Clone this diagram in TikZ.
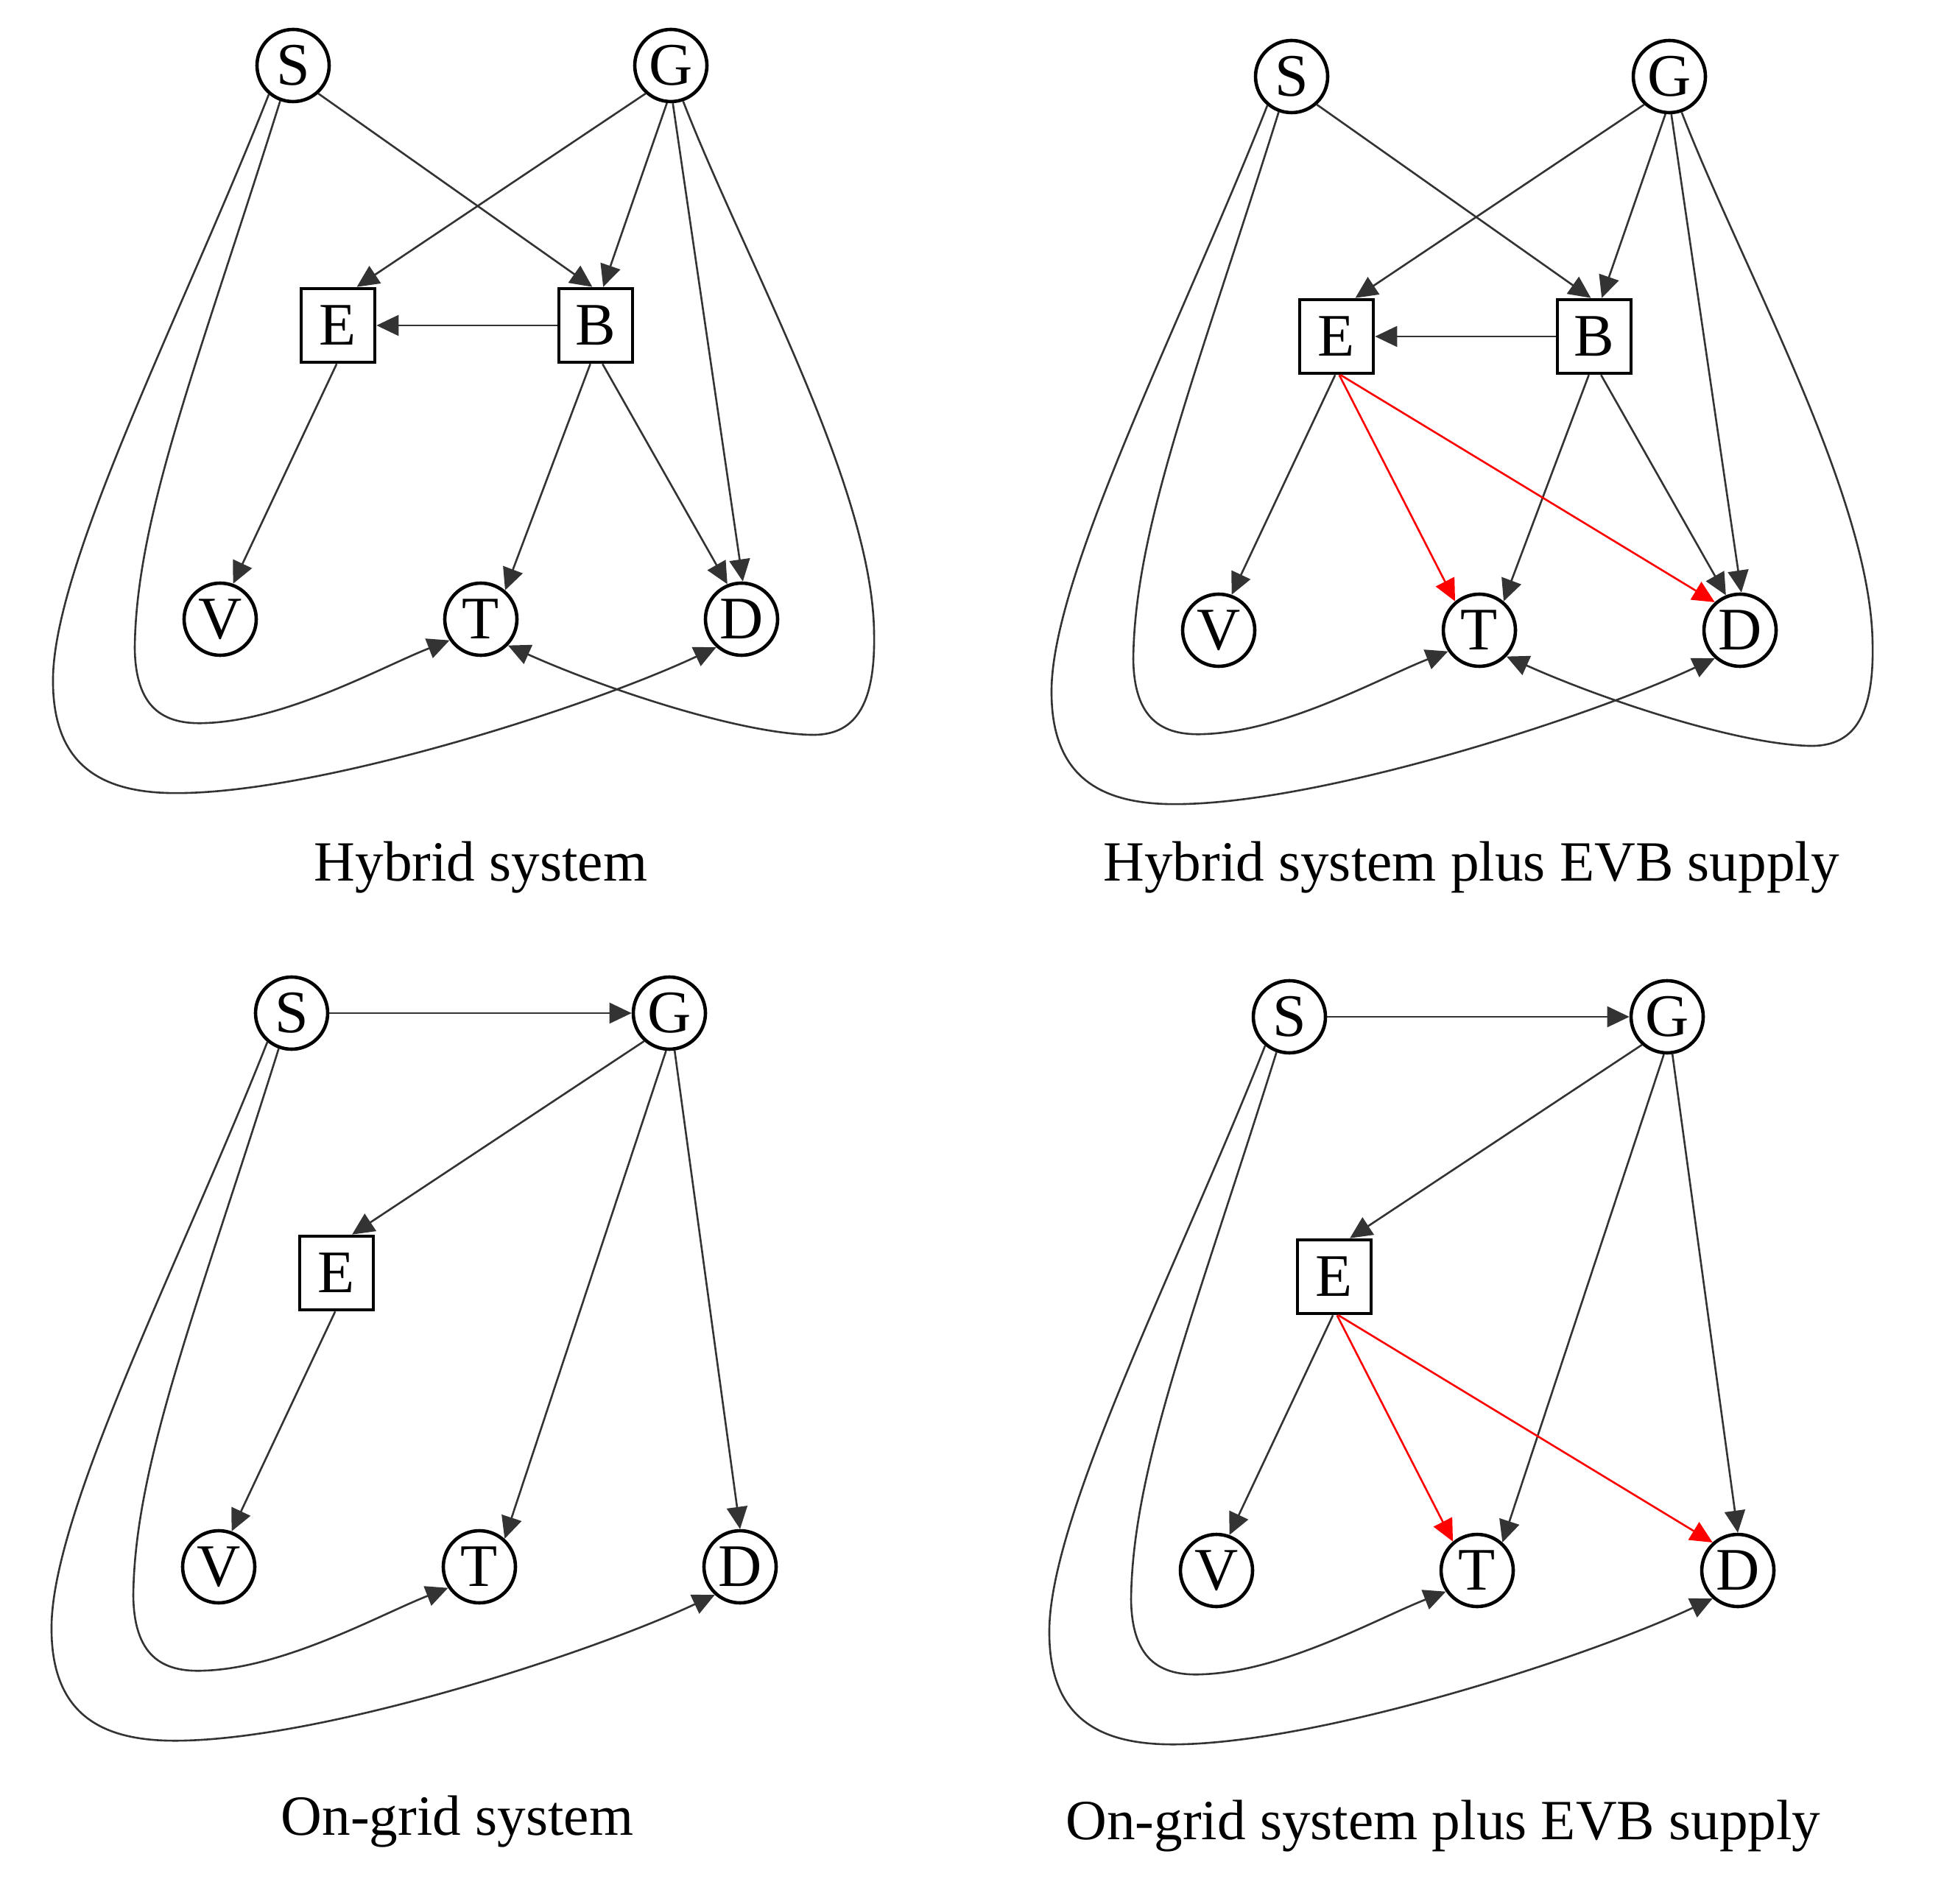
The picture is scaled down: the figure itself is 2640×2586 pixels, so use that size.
\documentclass[tikz,border=0pt]{standalone}
\usepackage{fontspec}
\setmainfont{Liberation Serif}
\usetikzlibrary{arrows.meta}
\tikzset{
  cnode/.style={circle, draw, line width=1.15pt, minimum size=24.5pt, inner sep=0pt,
                font=\fontsize{20.5pt}{24pt}\selectfont},
  bnode/.style={rectangle, draw, line width=1.15pt, minimum size=25pt, inner sep=0pt,
                font=\fontsize{20.5pt}{24pt}\selectfont},
  conn/.style={draw=black!80, line width=0.65pt, -{Triangle[length=7.5pt,width=7pt]}},
  rconn/.style={conn, draw=red},
  caption/.style={anchor=base, inner sep=0pt, font=\fontsize{19.3pt}{23pt}\selectfont},
}
\newcommand{\basenodes}{%
  \node[cnode] (S) at (398,89) {S};
  \node[cnode] (G) at (911,89) {G};
  \node[bnode] (E) at (459,442) {E};
  \node[cnode] (V) at (299,841) {V};
  \node[cnode] (T) at (653,841) {T};
  \node[cnode] (D) at (1007,841) {D};
}
\newcommand{\leftcurves}{%
  \draw[conn] (S.250) .. controls (270,490) and (185,700) .. (183,880)
     .. controls (184,960) and (220,985) .. (280,982)
     .. controls (390,978) and (520,905) .. (T.214);
  \draw[conn] (S.230) .. controls (250,420) and (75,760) .. (72,920)
     .. controls (70,1050) and (150,1080) .. (253,1077)
     .. controls (450,1072) and (800,960) .. (D.228);
}
\newcommand{\hybridedges}{%
  \node[bnode] (B) at (809,442) {B};
  \draw[conn] (S.-48) -- (B.95);
  \draw[conn] (G.228) -- (E.64);
  \draw[conn] (G.264) -- (B.79);
  \draw[conn] (G.273) -- (D.88);
  \draw[conn] (B.west) -- (E.east);
  \draw[conn] (B.262) -- (T.50);
  \draw[conn] (B.-80) -- (D.112);
  \draw[conn] (E.268) -- (V.70);
  \draw[conn] (G.289) .. controls (1010,350) and (1185,660) .. (1187,860)
     .. controls (1189,960) and (1160,1000) .. (1100,998)
     .. controls (1000,995) and (820,935) .. (T.-44);
  \leftcurves
}
\newcommand{\gridedges}{%
  \draw[conn] (S.east) -- (G.west);
  \draw[conn] (G.228) -- (E.68);
  \draw[conn] (G.265) -- (T.48);
  \draw[conn] (G.278) -- (D.90);
  \draw[conn] (E.268) -- (V.70);
  \leftcurves
}
\newcommand{\evbedges}{%
  \draw[rconn] (E.-86) -- (T.130);
  \draw[rconn] (E.-84) -- (D.132);
}
\begin{document}
\begin{tikzpicture}[x=0.25pt, y=-0.25pt]
  \useasboundingbox (0,0) rectangle (2640,2586);
  \fill[white] (0,0) rectangle (2640,2586);

  % Panel 1: Hybrid system
  \begin{scope}[name prefix=a-]
    \basenodes
    \hybridedges
  \end{scope}
  \node[caption] (capA) at (653,1196) {Hybrid system};

  % Panel 2: Hybrid system plus EVB supply
  \begin{scope}[shift={(1356,15)}, name prefix=b-]
    \basenodes
    \hybridedges
    \evbedges
  \end{scope}
  \node[caption] (capB) at (1998,1196) {Hybrid system plus EVB supply};

  % Panel 3: On-grid system
  \begin{scope}[shift={(-2,1287)}, name prefix=c-]
    \basenodes
    \gridedges
  \end{scope}
  \node[caption] (capC) at (621,2492) {On-grid system};

  % Panel 4: On-grid system plus EVB supply
  \begin{scope}[shift={(1353,1292)}, name prefix=d-]
    \basenodes
    \gridedges
    \evbedges
  \end{scope}
  \node[caption] (capD) at (1960,2498) {On-grid system plus EVB supply};
\end{tikzpicture}
\end{document}
